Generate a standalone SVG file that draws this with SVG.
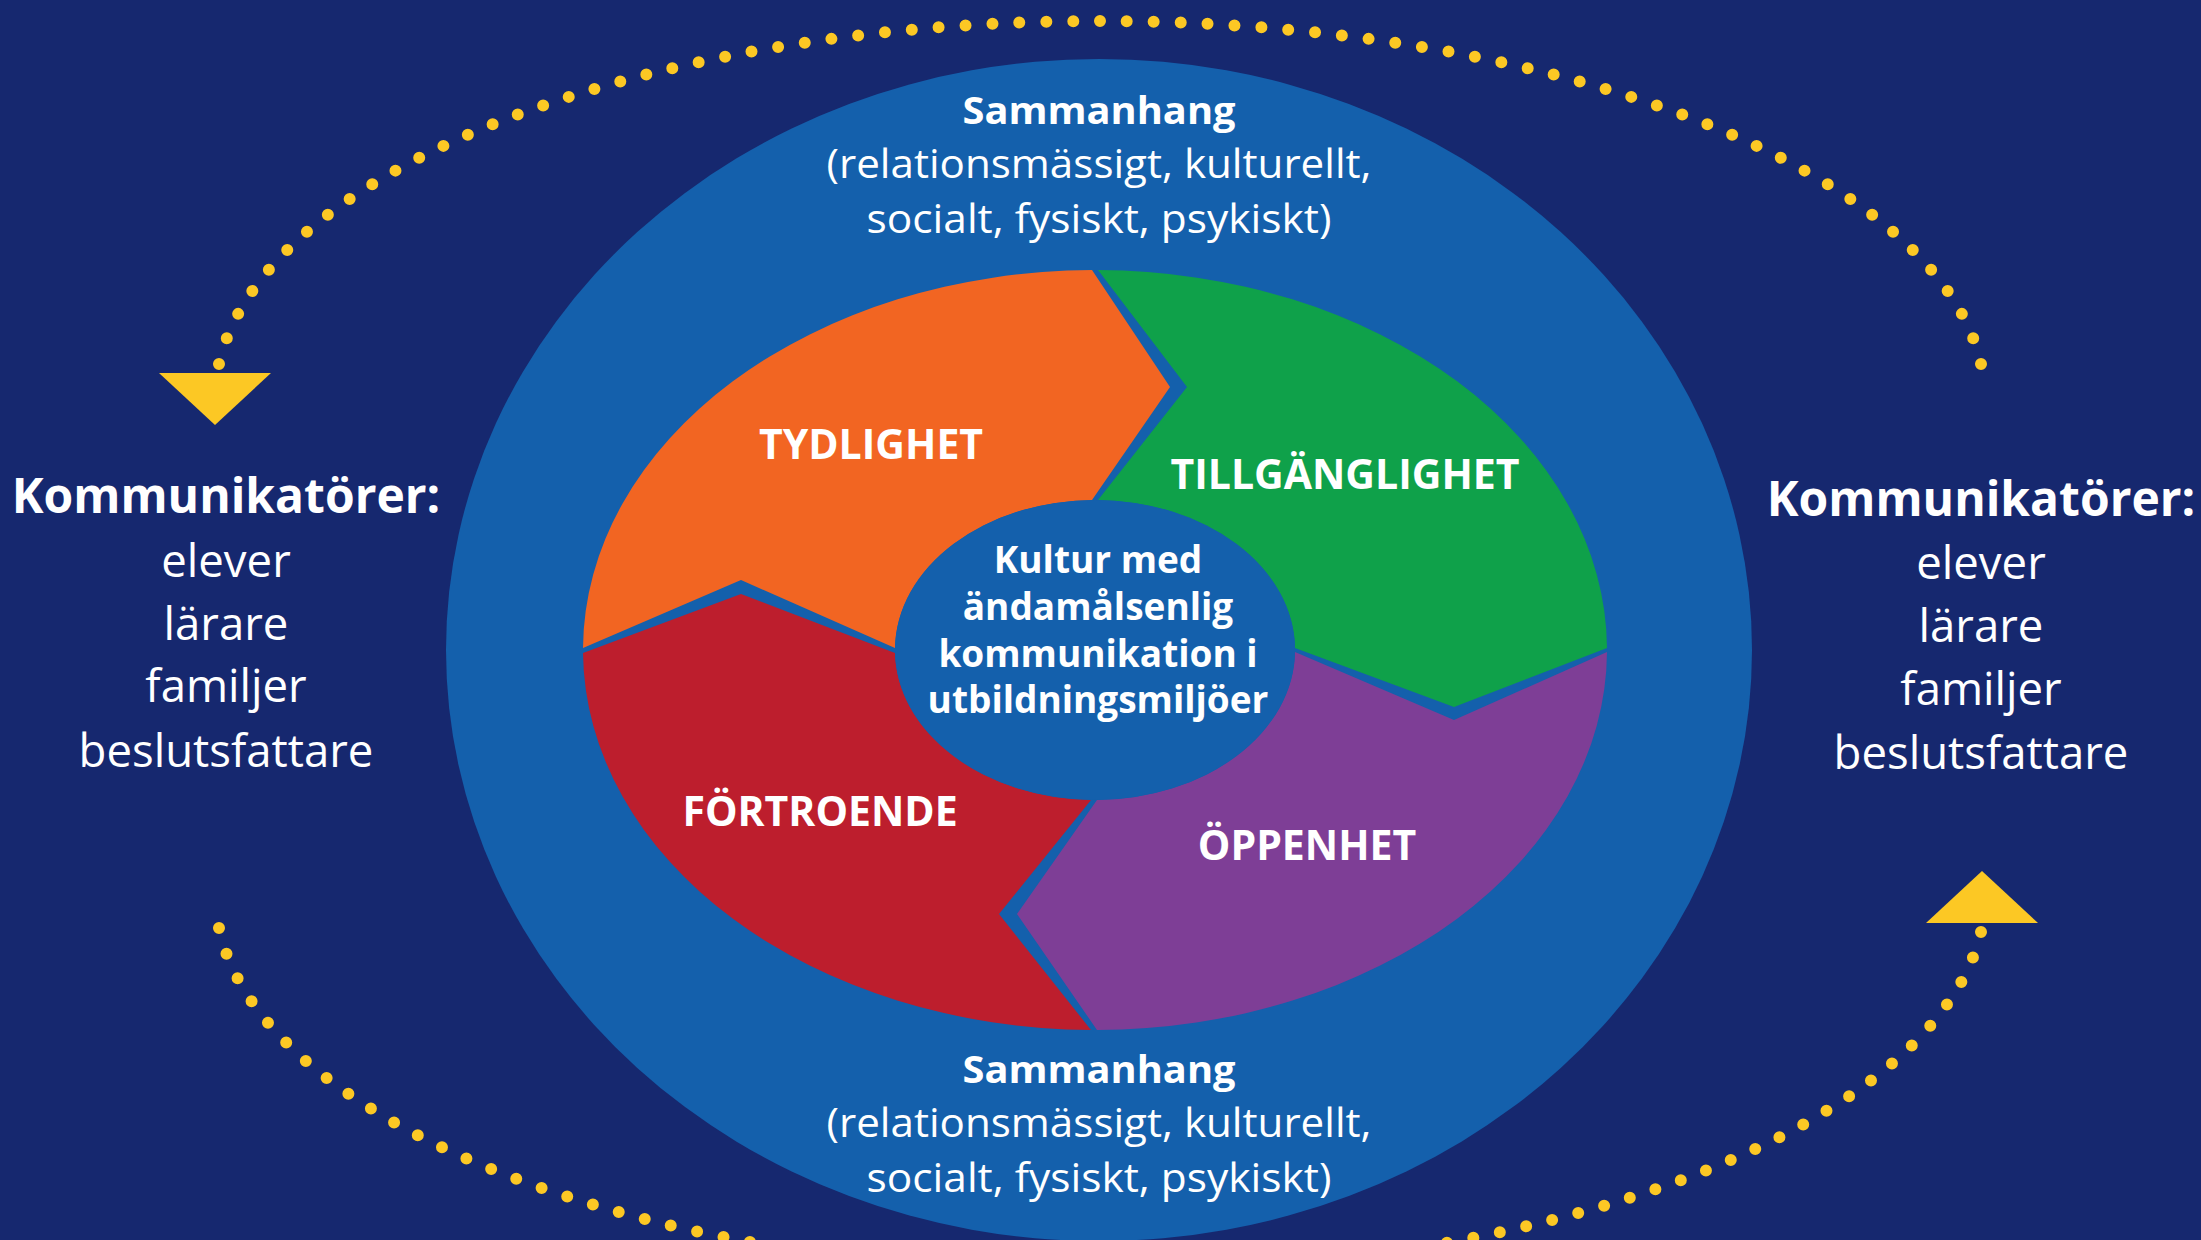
<svg xmlns="http://www.w3.org/2000/svg" width="2201" height="1240" viewBox="0 0 2201 1240">
  <defs>
    <style>
      .bg { fill: #16286f; }
      .ctx { fill: #1460ac; }
      .t { fill: #ffffff; font-family: "Open Sans", "Noto Sans", sans-serif; text-anchor: middle; }
      .ctxb { font-size: 38px; font-weight: 700; }
      .ctxr { font-size: 40px; }
      .lab { font-size: 41px; font-weight: 700; }
      .core { font-size: 37px; font-weight: 700; }
      .komb { font-size: 48px; font-weight: 700; }
      .komr { font-size: 45.5px; }
      .dots { fill: none; stroke: #fcc824; stroke-width: 12; stroke-linecap: round; stroke-dasharray: 0 1; }
      .tri { fill: #fcc824; }
    </style>
    <polygon id="triDown" points="-56,0 56,0 0,52"/>
  </defs>

  <rect class="bg" x="0" y="0" width="2201" height="1240"/>

  <g id="connectors">
    <path class="dots" pathLength="74" d="M 219 364 A 885 379 0 0 1 1981 364"/>
    <path class="dots" pathLength="74" d="M 219 928 A 885 379 0 0 0 1981 932"/>
    <use href="#triDown" class="tri" transform="translate(215,373)"/>
    <use href="#triDown" class="tri" transform="translate(1982,923) scale(1,-1)"/>
  </g>

  <g id="context">
    <ellipse class="ctx" cx="1099" cy="650" rx="653" ry="591"/>
    <text class="t ctxb" x="1099" y="124" textLength="273" lengthAdjust="spacingAndGlyphs">Sammanhang</text>
    <text class="t ctxr" x="1099" y="178" textLength="545" lengthAdjust="spacingAndGlyphs">(relationsmässigt, kulturellt,</text>
    <text class="t ctxr" x="1099" y="233" textLength="465" lengthAdjust="spacingAndGlyphs">socialt, fysiskt, psykiskt)</text>
    <text class="t ctxb" x="1099" y="1083" textLength="273" lengthAdjust="spacingAndGlyphs">Sammanhang</text>
    <text class="t ctxr" x="1099" y="1137" textLength="545" lengthAdjust="spacingAndGlyphs">(relationsmässigt, kulturellt,</text>
    <text class="t ctxr" x="1099" y="1192" textLength="465" lengthAdjust="spacingAndGlyphs">socialt, fysiskt, psykiskt)</text>
  </g>

  <g id="tydlighet">
    <path fill="#f26522" d="M 583 648 A 512 380 0 0 1 1092 270 L 1170 387 L 1092 500 A 200 150 0 0 0 895 648 L 741 580 Z"/>
    <text class="t lab" x="871" y="459">TYDLIGHET</text>
  </g>

  <g id="tillganglighet">
    <path fill="#0fa14a" d="M 1098 270 A 512 380 0 0 1 1607 648 L 1454 707 L 1295 648 A 200 150 0 0 0 1098 500 L 1187 387 Z"/>
    <text class="t lab" x="1345" y="489">TILLGÄNGLIGHET</text>
  </g>

  <g id="oppenhet">
    <path fill="#7e3e96" d="M 1607 652 A 512 380 0 0 1 1097 1030 L 1017 914 L 1097 800 A 200 150 0 0 0 1295 652 L 1454 720 Z"/>
    <text class="t lab" x="1307" y="860">ÖPPENHET</text>
  </g>

  <g id="fortroende">
    <path fill="#bd1e2d" d="M 1091 1030 A 512 380 0 0 1 583 653 L 741 594 L 895 653 A 200 150 0 0 0 1091 800 L 999 914 Z"/>
    <text class="t lab" x="820" y="826">FÖRTROENDE</text>
  </g>

  <g id="kultur">
    <ellipse class="ctx" cx="1095" cy="650" rx="200" ry="150"/>
    <text class="t core" x="1098" y="573">Kultur med</text>
    <text class="t core" x="1098" y="620">ändamålsenlig</text>
    <text class="t core" x="1098" y="667">kommunikation i</text>
    <text class="t core" x="1098" y="713">utbildningsmiljöer</text>
  </g>

  <g id="kommunikatorer-vanster">
    <text class="t komb" x="226" y="513">Kommunikatörer:</text>
    <text class="t komr" x="226" y="577">elever</text>
    <text class="t komr" x="226" y="640">lärare</text>
    <text class="t komr" x="226" y="702">familjer</text>
    <text class="t komr" x="226" y="767">beslutsfattare</text>
  </g>

  <g id="kommunikatorer-hoger">
    <text class="t komb" x="1981" y="516">Kommunikatörer:</text>
    <text class="t komr" x="1981" y="579">elever</text>
    <text class="t komr" x="1981" y="642">lärare</text>
    <text class="t komr" x="1981" y="705">familjer</text>
    <text class="t komr" x="1981" y="769">beslutsfattare</text>
  </g>
</svg>
